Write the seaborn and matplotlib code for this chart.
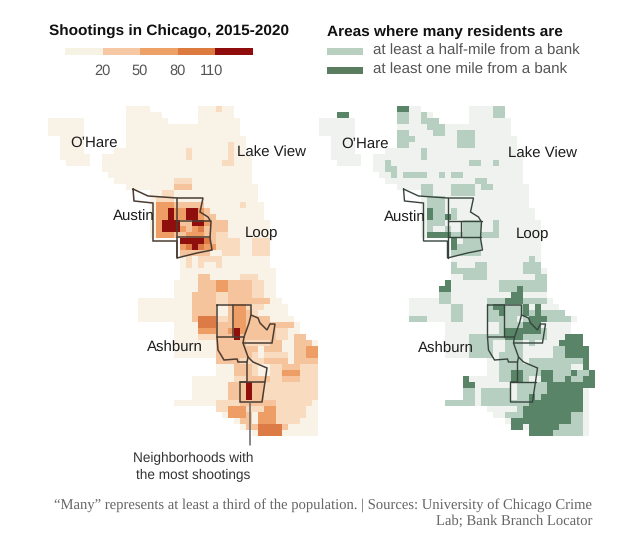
import numpy as np
import seaborn as sns
import matplotlib.pyplot as plt
from matplotlib.colors import ListedColormap

# shooting class per map cell ('.' = outside the city)
shootings_rows = [
    "",
    ".............1111........111211",
    ".............111111......111111",
    "111111.......1111111.....1111111",
    "111111.......1111111111111111111",
    "111111.......1111111111111111111",
    "..1111.......11111111111111111111",
    "..1111.......11111111111111111211",
    "..1111.....11111111111121111112" + "11",
    "..11111..11111111111111211111121" + "11",
    "...1111..11111111111111111111" + "22111",
    "........." + "1" * 25,
    ".........." + "1" * 24,
    "..........." + "1111111111" + "222" + "1111111111",
    "............." + "11111111" + "333" + "11111111111",
    "................." + "1122" + "1" * 14,
    "................." + "1222" + "1" * 14,
    "................." + "1444333331111112111",
    "................." + "14464466431" + "11111111",
    "................." + "14464466433" + "11111111",
    "................." + "1466633664333" + "1111111",
    "................." + "1466643453333" + "1111111",
    "................." + "1444334443322" + "1111111",
    "......................" + "66665322221" + "1222",
    "......................" + "456544222211222",
    "......................" + "333331122211222",
    "......................" + "1212222" + "11111111",
    "......................" + "1212112" + "11111111",
    "......................" + "1" * 16,
    "......................" + "1113311111222111",
    "....................." + "1111333443333" + "2211",
    "....................." + "1111333443333" + "2211",
    "....................." + "11133332233332211",
    "..............." + "111111111" + "33332233333" + "3311",
    "..............." + "111111111" + "3333113442221111",
    "..............." + "111111111" + "33331134432" + "11111",
    "..............." + "111111111" + "3555223443" + "3331111",
    "....................." + "1111555333443333" + "33331",
    "....................." + "111144433464333332211",
    "....................." + "111122233363333332" + "2133",
    "....................." + "1111111333332222331" + "13331",
    "....................." + "1111111333333313331" + "13344",
    "....................." + "1111111333333212222" + "13344",
    "............................" + "33332222333313333",
    "............................" + "11133321122333222",
    "............................" + "11133321122444222",
    "........................" + "1111111223333" + "22333222",
    "........................" + "111111333633222222222",
    "........................" + "111111333633222222222",
    "........................" + "111111333633222222222",
    "....................." + "1111111222233333" + "32222221",
    "............................" + "22444222" + "442222211",
    "............................." + "14443144422222" + "11",
    "..............................." + "1331444" + "2222111",
    "................................" + "13355553" + "11111",
    ".................................." + "15555" + "111111",
]

# bank distance class per map cell ('.' = outside the city)
bank_rows = [
    "",
    ".............3311........111122",
    "...33........22112 1......111122".replace(" ", ""),
    "111111.......2211222.....1111111",
    "111111.......11111222" + "1" * 11,
    "111111.......22111122" + "11222111111",
    "..1111.......222" + "1111111" + "222" + "1111111",
    "..1111.......22" + "11111111" + "222" + "1111111",
    "..1111....." + "111111" + "2" + "1" * 15,
    "..11111.." + "11111111" + "2" + "1" * 16,
    "...1111.." + "112" + "1" * 13 + "221121111",
    "........." + "1122" + "1" * 21,
    ".........." + "1121222211" + "2122" + "1" * 10,
    "..........." + "1" * 15 + "22" + "111111",
    "............." + "1111221112222" + "122111111",
    "................." + "221112222" + "1" * 9,
    "................." + "1222" + "1" * 14,
    "................." + "1222" + "1" * 14,
    "................." + "132212" + "1" * 13,
    "................." + "132232" + "1" * 13,
    "................." + "1222111222112" + "1111111",
    "................." + "1211211222112" + "1111111",
    "................." + "1333322222222" + "1111111",
    "......................" + "31222" + "1" * 10,
    "......................" + "32222" + "1" * 10,
    "......................" + "22222" + "1" * 10,
    "......................" + "1" * 13 + "21",
    "......................" + "211122111111222",
    "......................" + "2222221111112221",
    "......................" + "11222211111111" + "22",
    "....................." + "3" + "11111111" + "22222222",
    "...................." + "33" + "11111111" + "22232222",
    "...................." + "22" + "1111111111" + "331111",
    "..............." + "11111" + "22111111" + "222333222" + "21",
    "..............." + "1111111" + "221111" + "2332223" + "13111",
    "..............." + "1111111" + "221111" + "2232223" + "232222",
    "..............." + "2221111" + "221111" + "22222123332222" + "1",
    "....................." + "1111111" + "112222333" + "11111",
    "....................." + "1111111" + "112333333" + "21111",
    "....................." + "1111222222333222211" + "1333",
    "....................." + "1111222211222121" + "1113333",
    "....................." + "11112222112221111" + "1223333",
    "....................." + "11112222122221111" + "1223333",
    "............................" + "11222212222222223",
    "............................" + "11222222222222113",
    "............................" + "11223322233222322" + "33",
    "........................" + "311111223321133" + "2232233",
    "........................" + "3311111112222233333333",
    "........................" + "2212222212222233333" + "31",
    "........................" + "22122222122323" + "3333331",
    "....................." + "222221222222223" + "333333331",
    "............................" + "111112" + "33333333331",
    "............................." + "11222" + "3333333322" + "1",
    "..............................." + "133" + "33333333" + "221",
    "................................" + "331" + "333332222" + "1",
    "..................................." + "3333222221",
]

shootings_colors = ["#f8f3e6", "#f9dcc0", "#f6c49c", "#ee9d64", "#dd7b46", "#8f0f0c"]
bank_colors = ["#f0f2f0", "#b7cfc0", "#5a8468"]

legend_colors = ["#f6f2e4", "#f6c9a4", "#eea167", "#dc7a3f", "#8f0c0c"]
legend_ticks = ["20", "50", "80", "110"]

# neighborhood outlines, in map pixels of the left panel
neighborhoods = [
    [(133, 189), (148, 196), (177, 198), (203, 198), (200, 212), (208, 217), (211, 222), (210, 238),
     (212, 250), (197, 253), (177, 258), (177, 241), (153, 241), (153, 203), (134, 201), (133, 189)],
    [(177, 198), (177, 258)],
    [(177, 221), (211, 221)],
    [(177, 237), (210, 237)],
    [(217, 305), (251, 305), (251, 315), (249, 323), (244, 337), (217, 337), (217, 305)],
    [(233, 305), (233, 337)],
    [(251, 315), (258, 318), (260, 323), (267, 330), (270, 324), (275, 324), (272, 343), (243, 343), (244, 337)],
    [(217, 337), (218, 350), (224, 360), (237, 359), (238, 362), (247, 362), (248, 357), (243, 343)],
    [(248, 357), (253, 362), (267, 368), (262, 402), (240, 402), (240, 382), (247, 382), (247, 362)],
    [(240, 382), (265, 382)],
]
leader_x = [250, 250]
leader_y = [403, 445]

W, H = 640, 540
CELL = 6
TOP = 100
LEFT_X = 48
RIGHT_X = 318.5


def to_grid(rows):
    out = []
    for row in rows:
        row = row.ljust(46, ".")[:46]
        out.append([np.nan if c == "." else int(c) for c in row])
    return np.array(out, dtype=float)


def map_axes(fig, x0, grid):
    nrows, ncols = grid.shape
    ax = fig.add_axes([x0 / W, 1 - (TOP + nrows * CELL) / H, ncols * CELL / W, nrows * CELL / H])
    ax.patch.set_visible(False)
    return ax


sns.set_theme(style="white")
plt.rcParams["font.family"] = ["Liberation Sans", "DejaVu Sans"]
plt.rcParams["text.hinting"] = "no_hinting"

fig = plt.figure(figsize=(6.4, 5.4), dpi=100)

left_grid = to_grid(shootings_rows)
ax1 = map_axes(fig, LEFT_X, left_grid)
sns.heatmap(left_grid, ax=ax1, cmap=ListedColormap(shootings_colors), vmin=0.5, vmax=6.5,
            cbar=False, xticklabels=False, yticklabels=False)

right_grid = to_grid(bank_rows)
ax2 = map_axes(fig, RIGHT_X, right_grid)
sns.heatmap(right_grid, ax=ax2, cmap=ListedColormap(bank_colors), vmin=0.5, vmax=3.5,
            cbar=False, xticklabels=False, yticklabels=False)

# shootings scale
ax3 = fig.add_axes([65 / W, 1 - 55 / H, 188 / W, 7 / H])
sns.heatmap(np.arange(5).reshape(1, 5), ax=ax3, cmap=ListedColormap(legend_colors),
            cbar=False, xticklabels=False, yticklabels=False)

# everything else lives on a pixel overlay
over = fig.add_axes([0, 0, 1, 1])
over.set_xlim(0, W)
over.set_ylim(H, 0)
over.axis("off")
over.patch.set_visible(False)

for line in neighborhoods:
    xs = [p[0] for p in line]
    ys = [p[1] for p in line]
    over.plot(xs, ys, color="#4b3d33", lw=1.1, solid_joinstyle="miter")
    over.plot([x + RIGHT_X - LEFT_X for x in xs], ys, color="#36453c", lw=1.0, solid_joinstyle="miter")
over.plot([190 + RIGHT_X - LEFT_X] * 2, [221, 237], color="#36453c", lw=1.0)
over.plot(leader_x, leader_y, color="#666666", lw=1.1)

head = dict(fontsize=11.1, fontweight="bold", color="#111111", va="center", ha="left")
over.text(49, 32, "Shootings in Chicago, 2015-2020", **head)
over.text(327, 32, "Areas where many residents are", **head)

for x, lab in zip([102, 140, 178, 212], legend_ticks):
    over.text(x, 71, lab, fontsize=10.5, color="#555555", ha="center", va="center")

over.fill_between([327, 363], 48, 55, color="#b9d0c1", lw=0)
over.fill_between([327, 363], 67, 74, color="#5a7d60", lw=0)
over.text(373, 51, "at least a half-mile from a bank", fontsize=10.9, color="#555555", va="center")
over.text(373, 70, "at least one mile from a bank", fontsize=10.9, color="#555555", va="center")

map_labels = [("O\u2019Hare", 70, 143), ("Lake View", 237, 153), ("Austin", 113, 217),
              ("Loop", 245, 233), ("Ashburn", 147, 348)]
for lab, x, y in map_labels:
    over.text(x, y, lab, fontsize=10.8, color="#1c1c1c", va="center")
    over.text(x + 271, y + 1, lab, fontsize=10.8, color="#1c1c1c", va="center")

over.text(193, 458, "Neighborhoods with", fontsize=9.8, color="#333333", ha="center", va="center")
over.text(193, 475, "the most shootings", fontsize=9.8, color="#333333", ha="center", va="center")

foot = dict(fontsize=10.5, family="Liberation Serif", color="#666666", va="center", ha="right")
over.text(592, 505, "\u201cMany\u201d represents at least a third of the population. | Sources: University of Chicago Crime", **foot)
over.text(592, 521, "Lab; Bank Branch Locator", **foot)

fig.savefig("out.png", dpi=100)
